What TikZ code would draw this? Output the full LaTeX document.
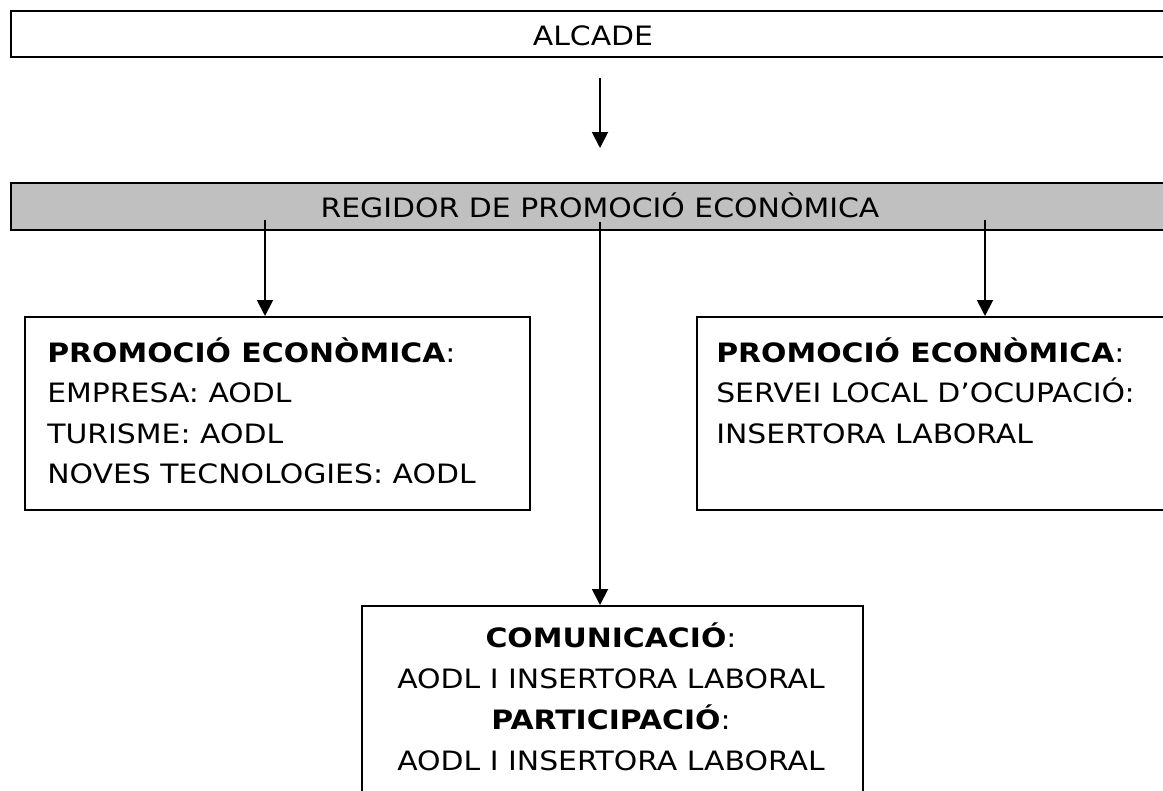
\documentclass[tikz,border=0pt]{standalone}
\usepackage{fontspec}
\setmainfont{DejaVu Sans}[FakeStretch=1.12]
\usetikzlibrary{arrows.meta}
\definecolor{boxgray}{HTML}{C0C0C0}
\tikzset{
  topbox/.style={draw=black, line width=1.6pt, rectangle, inner sep=0pt},
  subbox/.style={draw=black, line width=1.3pt, rectangle, inner sep=0pt, anchor=north west},
  txt/.style={inner sep=0pt, font=\fontsize{20}{24}\selectfont},
  arr/.style={line width=1.4pt, -{Triangle[width=12pt,length=12pt]}},
}
\begin{document}
\begin{tikzpicture}[x=0.75pt,y=-0.75pt]
\useasboundingbox (0,0) rectangle (1163,790);
\clip (0,0) rectangle (1163,790);
% top boxes
\node[topbox, minimum width=1190*0.75pt, minimum height=46*0.75pt, anchor=north west] (alc) at (10,10) {};
\node[txt, anchor=base] (alct) at (593,45) {ALCADE};
\node[topbox, fill=boxgray, minimum width=1180*0.75pt, minimum height=47*0.75pt, anchor=north west] (reg) at (10,182) {};
\node[txt, anchor=base] (regt) at (600,217) {REGIDOR DE PROMOCIÓ ECONÒMICA};
% sub boxes
\node[subbox, minimum width=505*0.75pt, minimum height=193*0.75pt] (lb) at (24,316) {};
\node[subbox, minimum width=520*0.75pt, minimum height=193*0.75pt] (rb) at (696,316) {};
\node[subbox, minimum width=501*0.75pt, minimum height=220*0.75pt] (bb) at (361,605) {};
% left box text
\node[txt, anchor=base west] (l1) at (47,362) {\textbf{PROMOCIÓ ECONÒMICA}:};
\node[txt, anchor=base west] (l2) at (47,402) {EMPRESA: AODL};
\node[txt, anchor=base west] (l3) at (47,443) {TURISME: AODL};
\node[txt, anchor=base west] (l4) at (47,483) {NOVES TECNOLOGIES: AODL};
% right box text
\node[txt, anchor=base west] (r1) at (716,362) {\textbf{PROMOCIÓ ECONÒMICA}:};
\node[txt, anchor=base west] (r2) at (716,402) {SERVEI LOCAL D’OCUPACIÓ:};
\node[txt, anchor=base west] (r3) at (716,443) {INSERTORA LABORAL};
% bottom box text
\node[txt, anchor=base] (b1) at (611,647) {\textbf{COMUNICACIÓ}:};
\node[txt, anchor=base] (b2) at (611,688) {AODL I INSERTORA LABORAL};
\node[txt, anchor=base] (b3) at (611,729) {\textbf{PARTICIPACIÓ}:};
\node[txt, anchor=base] (b4) at (611,770) {AODL I INSERTORA LABORAL};
% connectors
\coordinate (a1) at (600,78);
\coordinate (a2) at (600,148);
\draw[arr] (a1) -- (a2);
\coordinate (s1) at (265,220);
\coordinate (s2) at (600,222);
\coordinate (s3) at (985,220);
\draw[arr] (s1) -- (s1 |- lb.north);
\draw[arr] (s2) -- (s2 |- bb.north);
\draw[arr] (s3) -- (s3 |- rb.north);
\end{tikzpicture}
\end{document}
